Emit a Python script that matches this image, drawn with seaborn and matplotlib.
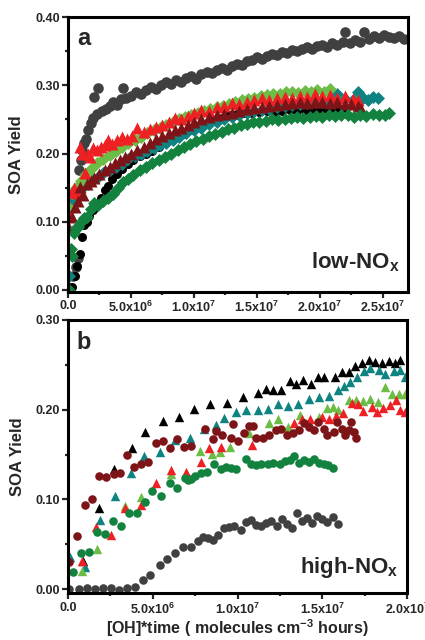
import numpy as np
import matplotlib
matplotlib.use("Agg")
import matplotlib.pyplot as plt
from matplotlib.ticker import MultipleLocator
import seaborn as sns

# ---- panel a (low-NOx), x in units of 1e6 molecules cm-3 h ----
gray_a_x = [0.1, 0.4, 0.6, 0.8, 0.9, 1.0, 1.1, 1.25, 1.4, 1.6,
            1.8, 2.0, 2.1, 2.3, 2.4, 2.7, 3.0, 3.3, 3.6, 3.9,
            4.2, 4.4, 4.6, 5.0, 5.4, 5.8, 6.2, 6.6, 7.0, 7.4,
            7.8, 8.2, 8.6, 9.0, 9.4, 9.8, 10.2, 10.6, 11.0, 11.4,
            11.8, 12.2, 12.6, 13.0, 13.4, 13.8, 14.2, 14.6, 15.0, 15.4,
            15.8, 16.2, 16.6, 17.0, 17.4, 17.8, 18.2, 18.6, 19.0, 19.4,
            19.8, 20.2, 20.6, 21.0, 21.4, 21.8, 22.0, 22.4, 22.8, 23.2,
            23.5, 23.9, 24.3, 24.7, 25.1, 25.5, 25.9, 26.3, 26.7]
gray_a_y = [0.003, 0.020, 0.033, 0.047, 0.176, 0.190, 0.205, 0.215, 0.222, 0.234,
            0.245, 0.252, 0.283, 0.258, 0.296, 0.262, 0.266, 0.270, 0.275, 0.271,
            0.280, 0.296, 0.282, 0.285, 0.290, 0.287, 0.293, 0.298, 0.295, 0.300,
            0.305, 0.302, 0.308, 0.305, 0.311, 0.314, 0.310, 0.317, 0.320, 0.318,
            0.322, 0.326, 0.323, 0.329, 0.332, 0.330, 0.336, 0.338, 0.341, 0.339,
            0.343, 0.346, 0.344, 0.349, 0.347, 0.352, 0.350, 0.354, 0.356, 0.353,
            0.358, 0.360, 0.357, 0.362, 0.360, 0.364, 0.378, 0.362, 0.366, 0.364,
            0.378, 0.368, 0.372, 0.369, 0.374, 0.371, 0.369, 0.373, 0.368]

black_a_x = [0.3, 0.55, 0.75, 0.95, 1.1, 1.3, 1.5, 1.7, 2.0, 2.3,
             2.6, 2.9, 3.2, 3.5, 3.9, 4.3, 4.8, 5.2, 5.7, 6.2,
             6.7, 7.2, 7.7, 8.2, 8.7, 9.2, 9.8, 10.4, 11.0, 11.6,
             12.2, 12.8, 13.4, 14.0, 14.6, 15.2, 15.8, 16.4, 17.0, 17.6,
             18.2, 18.8, 19.4, 20.0, 20.6, 21.2, 21.8]
black_a_y = [0.004, 0.020, 0.035, 0.052, 0.078, 0.095, 0.100, 0.108, 0.117, 0.126,
             0.135, 0.146, 0.153, 0.162, 0.170, 0.178, 0.185, 0.190, 0.196, 0.200,
             0.204, 0.210, 0.215, 0.220, 0.224, 0.229, 0.235, 0.240, 0.245, 0.249,
             0.252, 0.256, 0.258, 0.259, 0.260, 0.261, 0.262, 0.261, 0.263, 0.264,
             0.263, 0.264, 0.265, 0.264, 0.265, 0.264, 0.266]

teal_a_x = [0.1, 0.3, 0.5, 0.8, 1.2, 1.6, 2.0, 2.4, 2.8, 3.3,
            3.8, 4.3, 4.8, 5.3, 5.8, 6.3, 6.8, 7.3, 7.8, 8.3,
            8.8, 9.4, 10.0, 10.6, 11.2, 11.8, 12.4, 13.0, 13.6, 14.2,
            14.8, 15.4, 16.0, 16.6, 17.2, 17.8, 18.4, 19.0, 19.6, 20.2,
            20.8, 21.4, 22.0, 22.6, 23.0, 23.4, 23.8, 24.2, 24.6]
teal_a_y = [0.020, 0.132, 0.136, 0.142, 0.151, 0.156, 0.161, 0.166, 0.171, 0.176,
            0.180, 0.185, 0.192, 0.196, 0.200, 0.204, 0.208, 0.212, 0.216, 0.220,
            0.224, 0.230, 0.234, 0.238, 0.243, 0.246, 0.250, 0.253, 0.256, 0.259,
            0.262, 0.264, 0.266, 0.268, 0.270, 0.271, 0.273, 0.274, 0.276, 0.275,
            0.277, 0.288, 0.280, 0.278, 0.290, 0.281, 0.278, 0.283, 0.281]

ltgreen_a_x = [0.1, 0.3, 0.6, 1.0, 1.4, 1.8, 2.3, 2.8, 3.3, 3.8,
               4.3, 4.8, 5.3, 5.8, 6.3, 6.8, 7.3, 7.8, 8.3, 8.8,
               9.3, 9.8, 10.3, 10.8, 11.3, 11.8, 12.3, 12.8, 13.3, 13.8,
               14.3, 14.8, 15.3, 15.8, 16.3, 16.8, 17.3, 17.8, 18.3, 18.8,
               19.3, 19.8, 20.3, 20.8]
ltgreen_a_y = [0.120, 0.142, 0.150, 0.160, 0.170, 0.178, 0.186, 0.192, 0.198, 0.204,
               0.210, 0.215, 0.220, 0.225, 0.230, 0.234, 0.238, 0.242, 0.246, 0.250,
               0.254, 0.256, 0.260, 0.263, 0.266, 0.268, 0.270, 0.273, 0.275, 0.278,
               0.280, 0.282, 0.284, 0.286, 0.288, 0.287, 0.290, 0.291, 0.289, 0.292,
               0.291, 0.293, 0.290, 0.294]

red_a_x = [0.1, 0.3, 0.5, 0.7, 0.95, 1.15, 1.35, 1.55, 1.75, 2.0,
           2.3, 2.6, 2.9, 3.2, 3.5, 3.9, 4.3, 4.7, 5.1, 5.5,
           6.0, 6.5, 7.0, 7.5, 8.0, 8.5, 9.0, 9.5, 10.0, 10.6,
           11.2, 11.8, 12.4, 13.0, 13.6, 14.2, 14.8, 15.4, 16.0, 16.6,
           17.2, 17.8, 18.4, 19.0, 19.6, 20.2, 20.8, 21.4, 22.0, 22.6, 23.0]
red_a_y = [0.110, 0.144, 0.150, 0.142, 0.209, 0.200, 0.171, 0.200, 0.195, 0.208,
           0.205, 0.210, 0.212, 0.220, 0.214, 0.220, 0.224, 0.222, 0.226, 0.237,
           0.232, 0.236, 0.239, 0.242, 0.246, 0.252, 0.250, 0.255, 0.260, 0.264,
           0.262, 0.268, 0.270, 0.274, 0.272, 0.276, 0.278, 0.281, 0.279, 0.282,
           0.283, 0.281, 0.285, 0.283, 0.288, 0.284, 0.286, 0.282, 0.285, 0.280, 0.278]

dkred_a_x = [0.05, 0.3, 0.55, 0.8, 0.95, 1.2, 1.5, 1.8, 2.1, 2.5,
             2.9, 3.3, 3.7, 4.1, 4.5, 5.0, 5.5, 6.0, 6.5, 7.0,
             7.5, 8.0, 8.5, 9.0, 9.5, 10.0, 10.6, 11.2, 11.8, 12.4,
             13.0, 13.6, 14.2, 14.8, 15.4, 16.0, 16.6, 17.2, 17.8, 18.4,
             19.0, 19.6, 20.2, 20.8, 21.4, 22.0, 22.5, 23.0, 23.3]
dkred_a_y = [0.090, 0.107, 0.122, 0.130, 0.151, 0.139, 0.155, 0.160, 0.164, 0.170,
             0.176, 0.180, 0.186, 0.190, 0.195, 0.200, 0.205, 0.210, 0.216, 0.222,
             0.226, 0.230, 0.234, 0.238, 0.242, 0.246, 0.250, 0.253, 0.256, 0.258,
             0.260, 0.263, 0.265, 0.267, 0.268, 0.270, 0.271, 0.272, 0.274, 0.275,
             0.274, 0.276, 0.275, 0.274, 0.276, 0.273, 0.272, 0.270, 0.266]

dkgreen_a_x = [0.05, 0.2, 0.3, 0.45, 0.6, 0.8, 1.0, 1.25, 1.5, 1.8,
               2.1, 2.4, 2.8, 3.2, 3.6, 4.0, 4.4, 4.8, 5.2, 5.7,
               6.2, 6.7, 7.2, 7.7, 8.2, 8.7, 9.2, 9.7, 10.2, 10.7,
               11.2, 11.7, 12.2, 12.7, 13.2, 13.7, 14.2, 14.7, 15.2, 15.7,
               16.2, 16.7, 17.2, 17.7, 18.2, 18.7, 19.2, 19.7, 20.2, 20.7,
               21.2, 21.7, 22.2, 22.7, 23.2, 23.7, 24.2, 24.7, 25.2, 25.5]
dkgreen_a_y = [0.000, 0.060, 0.050, 0.083, 0.090, 0.092, 0.100, 0.105, 0.107, 0.118,
               0.127, 0.125, 0.130, 0.135, 0.140, 0.150, 0.158, 0.162, 0.168, 0.176,
               0.180, 0.186, 0.190, 0.195, 0.200, 0.205, 0.210, 0.214, 0.218, 0.222,
               0.226, 0.229, 0.232, 0.236, 0.238, 0.242, 0.244, 0.246, 0.247, 0.248,
               0.250, 0.249, 0.251, 0.252, 0.254, 0.252, 0.254, 0.255, 0.253, 0.256,
               0.255, 0.257, 0.256, 0.254, 0.257, 0.255, 0.258, 0.256, 0.257, 0.259]

# ---- panel b (high-NOx) ----
gray_b_x = [0.06, 0.65, 1.13, 1.6, 2.07, 2.55, 3.02, 3.5, 3.97, 4.45,
            4.86, 5.4, 5.81, 6.29, 6.76, 7.24, 7.65, 7.95, 8.24, 8.54,
            8.84, 9.19, 9.49, 9.79, 10.2, 10.5, 10.8, 11.1, 11.4, 11.7,
            12.0, 12.3, 12.6, 12.9, 13.2, 13.5, 13.8, 14.1, 14.4, 14.7,
            15.0, 15.3, 15.6, 15.9]
gray_b_y = [0.000, 0.000, 0.001, 0.000, 0.001, 0.001, -0.001, 0.001, 0.002, 0.010,
            0.016, 0.027, 0.034, 0.040, 0.047, 0.047, 0.054, 0.058, 0.057, 0.055,
            0.060, 0.068, 0.069, 0.070, 0.066, 0.075, 0.077, 0.072, 0.070, 0.074,
            0.076, 0.071, 0.078, 0.073, 0.068, 0.085, 0.076, 0.079, 0.074, 0.082,
            0.078, 0.075, 0.080, 0.073]

black_b_x = [0.87, 1.82, 2.73, 3.8, 4.57, 5.58, 6.52, 7.41, 8.36, 9.37,
             10.32, 11.21, 11.68, 12.1, 12.57, 13.1, 13.46, 13.88, 14.35, 14.77,
             15.12, 15.72, 16.13, 16.55, 16.9, 17.32, 17.73, 18.09, 18.51, 18.92,
             19.28, 19.57]
black_b_y = [0.032, 0.091, 0.134, 0.157, 0.175, 0.187, 0.192, 0.201, 0.206, 0.208,
             0.214, 0.219, 0.223, 0.222, 0.222, 0.232, 0.229, 0.233, 0.229, 0.237,
             0.236, 0.236, 0.242, 0.242, 0.249, 0.252, 0.255, 0.253, 0.252, 0.254,
             0.252, 0.255]

teal_b_x = [0.12, 1.0, 1.9, 2.79, 3.74, 4.5, 5.4, 6.29, 7.18, 8.0,
            8.72, 9.19, 9.9, 10.5, 11.21, 11.8, 12.4, 13.0, 13.58, 14.23,
            14.83, 15.42, 15.95, 16.25, 16.61, 17.02, 17.44, 17.79, 18.33, 18.68,
            19.22, 19.57, 19.87]
teal_b_y = [0.036, 0.025, 0.077, 0.104, 0.130, 0.148, 0.153, 0.166, 0.168, 0.178,
            0.183, 0.191, 0.197, 0.200, 0.200, 0.201, 0.206, 0.204, 0.206, 0.212,
            0.214, 0.215, 0.222, 0.226, 0.231, 0.236, 0.243, 0.247, 0.244, 0.240,
            0.243, 0.244, 0.236]

ltgreen_b_x = [0.83, 1.72, 3.38, 4.33, 6.05, 7.77, 8.48, 8.96, 9.55, 10.68,
               11.86, 12.4, 13.0, 13.7, 14.83, 15.3, 15.6, 15.95, 16.6, 17.0,
               17.4, 17.8, 18.3, 18.68, 19.1, 19.5, 19.9]
ltgreen_b_y = [0.020, 0.045, 0.093, 0.103, 0.128, 0.154, 0.151, 0.153, 0.159, 0.174,
               0.185, 0.190, 0.181, 0.194, 0.192, 0.202, 0.203, 0.200, 0.211, 0.211,
               0.210, 0.212, 0.209, 0.225, 0.217, 0.218, 0.218]

red_b_x = [0.83, 1.66, 2.55, 3.38, 4.33, 5.16, 6.05, 6.94, 7.83, 8.3,
           9.0, 10.85, 13.34, 13.8, 14.3, 15.0, 15.4, 15.8, 16.2, 16.72,
           17.1, 17.4, 17.9, 18.2, 18.6, 19.0, 19.35, 19.6, 19.9]
red_b_y = [0.032, 0.069, 0.060, 0.091, 0.094, 0.118, 0.133, 0.131, 0.142, 0.157,
           0.158, 0.161, 0.185, 0.190, 0.190, 0.192, 0.190, 0.193, 0.196, 0.207,
           0.206, 0.199, 0.203, 0.197, 0.202, 0.205, 0.211, 0.200, 0.197]

dkgreen_b_x = [0.3, 0.77, 1.25, 1.72, 2.19, 2.67, 3.14, 3.62, 4.09, 4.57,
               4.98, 5.46, 5.99, 6.4, 6.88, 7.06, 7.24, 7.5, 7.83, 8.2,
               8.6, 9.0, 9.3, 9.6, 9.9, 10.5, 10.8, 11.1, 11.4, 11.8,
               12.1, 12.5, 12.8, 13.1, 13.34, 13.6, 13.9, 14.2, 14.5, 14.8,
               15.1, 15.35, 15.6]
dkgreen_b_y = [0.019, 0.040, 0.041, 0.064, 0.062, 0.076, 0.070, 0.085, 0.085, 0.097,
               0.109, 0.104, 0.118, 0.113, 0.124, 0.122, 0.123, 0.126, 0.129, 0.131,
               0.140, 0.134, 0.136, 0.135, 0.134, 0.145, 0.140, 0.138, 0.140, 0.140,
               0.141, 0.140, 0.143, 0.144, 0.149, 0.141, 0.144, 0.142, 0.145, 0.141,
               0.140, 0.138, 0.135]

dkred_b_x = [0.06, 0.53, 1.0, 1.42, 1.84, 2.25, 2.73, 3.08, 3.5, 3.91,
             4.33, 4.74, 5.16, 5.58, 5.99, 6.4, 6.82, 7.24, 8.07, 8.54,
             8.72, 9.07, 9.61, 9.73, 10.02, 10.38, 10.68, 10.91, 11.09, 11.51,
             11.86, 12.28, 12.57, 12.93, 13.29, 13.64, 13.94, 14.23, 14.53, 14.77,
             15.12, 15.3, 15.66, 15.84, 16.13, 16.31, 16.55, 16.67, 16.84, 16.96]
dkred_b_y = [0.030, 0.059, 0.094, 0.100, 0.126, 0.125, 0.128, 0.129, 0.150, 0.136,
             0.139, 0.142, 0.163, 0.165, 0.157, 0.167, 0.158, 0.160, 0.179, 0.167,
             0.176, 0.172, 0.169, 0.184, 0.165, 0.174, 0.182, 0.182, 0.169, 0.168,
             0.172, 0.177, 0.179, 0.172, 0.174, 0.177, 0.185, 0.181, 0.177, 0.186,
             0.179, 0.172, 0.175, 0.186, 0.179, 0.172, 0.177, 0.186, 0.175, 0.169]

xticks_a = [0, 5e6, 1e7, 1.5e7, 2e7, 2.5e7]
xticklabels_a = ["0.0", r"5.0x10$^{6}$", r"1.0x10$^{7}$", r"1.5x10$^{7}$",
                 r"2.0x10$^{7}$", r"2.5x10$^{7}$"]
yticks_a = [0.0, 0.1, 0.2, 0.3, 0.4]
xticks_b = [0, 5e6, 1e7, 1.5e7, 2e7]
xticklabels_b = ["0.0", r"5.0x10$^{6}$", r"1.0x10$^{7}$", r"1.5x10$^{7}$",
                 r"2.0x10$^{7}$"]
yticks_b = [0.0, 0.1, 0.2, 0.3]

GRAY = "#404040"
BLACK = "#000000"
TEAL = "#0f8282"
LTGREEN = "#6cbd45"
RED = "#ee2024"
DKRED = "#7d1418"
DKGREEN = "#14823f"

sns.set_style("ticks")
plt.rcParams["font.family"] = ["Liberation Sans", "DejaVu Sans"]
plt.rcParams["font.weight"] = "bold"
plt.rcParams["mathtext.fontset"] = "custom"
plt.rcParams["mathtext.rm"] = "Liberation Sans:bold"
plt.rcParams["mathtext.it"] = "Liberation Sans:bold"
plt.rcParams["mathtext.bf"] = "Liberation Sans:bold"


def scatter(ax, xs, ys, color, marker, size):
    sns.scatterplot(x=np.array(xs) * 1e6, y=ys, color=color, marker=marker,
                    s=size, linewidth=0, ax=ax, legend=False)


def style_axis(ax, xticks, xlabels, yticks, xmax, ymin, ymax):
    ax.set_xlim(0, xmax)
    ax.set_ylim(ymin, ymax)
    ax.set_xticks(xticks)
    ax.set_xticklabels(xlabels)
    ax.set_yticks(yticks)
    ax.set_yticklabels(["%.2f" % v for v in yticks])
    ax.xaxis.set_minor_locator(MultipleLocator(2.5e6))
    ax.yaxis.set_minor_locator(MultipleLocator(0.05))
    ax.tick_params(which="major", direction="out", length=4, width=1.6,
                   labelsize=9, pad=2)
    ax.tick_params(which="minor", direction="out", length=2.5, width=1.6)
    for sp in ax.spines.values():
        sp.set_visible(True)
        sp.set_linewidth(2.2)
        sp.set_color("black")
    ax.set_ylabel("SOA Yield", fontsize=12, fontweight="bold")
    ax.yaxis.set_label_coords(-0.128, 0.5)
    ax.set_xlabel("")


fig = plt.figure(figsize=(4.25, 6.4), dpi=100)
ax_a = fig.add_axes([0.16, 0.544, 0.8, 0.429])
ax_b = fig.add_axes([0.16, 0.073, 0.798, 0.427])

# panel a
scatter(ax_a, gray_a_x, gray_a_y, GRAY, "o", 58)
scatter(ax_a, black_a_x, black_a_y, BLACK, "o", 42)
scatter(ax_a, teal_a_x, teal_a_y, TEAL, "D", 44)
scatter(ax_a, ltgreen_a_x, ltgreen_a_y, LTGREEN, "D", 44)
scatter(ax_a, red_a_x, red_a_y, RED, "^", 75)
scatter(ax_a, dkred_a_x, dkred_a_y, DKRED, "^", 75)
scatter(ax_a, dkgreen_a_x, dkgreen_a_y, DKGREEN, "D", 44)
style_axis(ax_a, xticks_a, xticklabels_a, yticks_a, 2.7e7, -0.003, 0.40)
ax_a.text(0.026, 0.898, "a", transform=ax_a.transAxes, fontsize=17,
          fontweight="bold", ha="left", va="baseline")
ax_a.text(0.976, 0.087, r"low-NO$_{x}$", transform=ax_a.transAxes,
          fontsize=16, fontweight="bold", ha="right", va="baseline")

# panel b
scatter(ax_b, gray_b_x, gray_b_y, GRAY, "o", 38)
scatter(ax_b, black_b_x, black_b_y, BLACK, "^", 46)
scatter(ax_b, teal_b_x, teal_b_y, TEAL, "^", 46)
scatter(ax_b, ltgreen_b_x, ltgreen_b_y, LTGREEN, "^", 46)
scatter(ax_b, red_b_x, red_b_y, RED, "^", 46)
scatter(ax_b, dkgreen_b_x, dkgreen_b_y, DKGREEN, "o", 38)
scatter(ax_b, dkred_b_x, dkred_b_y, DKRED, "o", 38)
style_axis(ax_b, xticks_b, xticklabels_b, yticks_b, 2.0e7, -0.0045, 0.30)
ax_b.text(0.024, 0.894, "b", transform=ax_b.transAxes, fontsize=17,
          fontweight="bold", ha="left", va="baseline")
ax_b.text(0.973, 0.073, r"high-NO$_{x}$", transform=ax_b.transAxes,
          fontsize=16, fontweight="bold", ha="right", va="baseline")
ax_b.set_xlabel(r"[OH]*time ( molecules cm$^{-3}$ hours)", fontsize=11.5,
                fontweight="bold")
ax_b.xaxis.set_label_coords(0.5, -0.088)
ax_b.xaxis.label.set_va("top")

fig.savefig("out.png", dpi=100)
